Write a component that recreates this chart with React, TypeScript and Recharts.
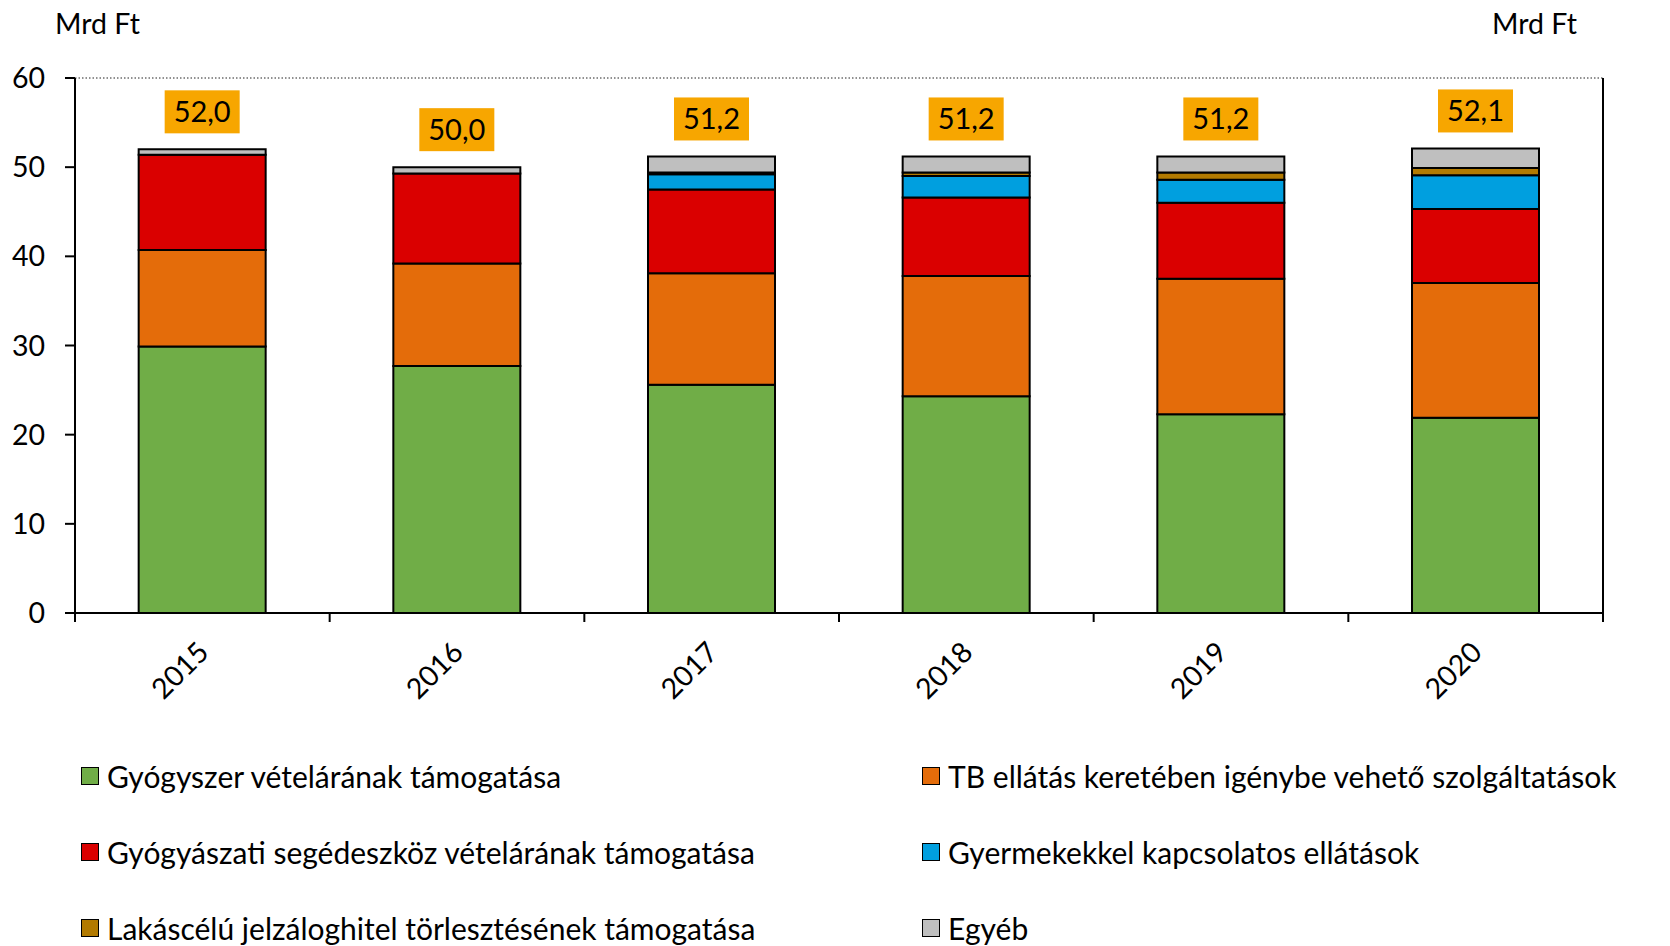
import React, { useEffect } from "react";
import { BarChart, Bar, XAxis, YAxis, CartesianGrid, LabelList } from "recharts";

// data ----------------------------------------------------------------------
const years = ["2015", "2016", "2017", "2018", "2019", "2020"];
const gyogyszer = [29.9, 27.7, 25.6, 24.3, 22.3, 21.9];
const tbEllatas = [10.8, 11.5, 12.5, 13.5, 15.2, 15.1];
const segedeszkoz = [10.7, 10.1, 9.4, 8.8, 8.5, 8.3];
const gyermek = [0, 0, 1.7, 2.4, 2.6, 3.8];
const lakascelu = [0, 0, 0.2, 0.4, 0.8, 0.8];
const egyeb = [0.6, 0.7, 1.8, 1.8, 1.8, 2.2];
const totals = [52.0, 50.0, 51.2, 51.2, 51.2, 52.1];
const yTicks = [0, 10, 20, 30, 40, 50, 60];

const series = [
  { key: "gyogyszer", name: "Gyógyszer vételárának támogatása", color: "#70AD47" },
  { key: "tb", name: "TB ellátás keretében igénybe vehető szolgáltatások", color: "#E46C0A" },
  { key: "seged", name: "Gyógyászati segédeszköz vételárának támogatása", color: "#DA0000" },
  { key: "gyermek", name: "Gyermekekkel kapcsolatos ellátások", color: "#009FDF" },
  { key: "lakas", name: "Lakáscélú jelzáloghitel törlesztésének támogatása", color: "#B27A00" },
  { key: "egyeb", name: "Egyéb", color: "#BFBFBF" },
];

const data = years.map((y, i) => ({
  year: y,
  gyogyszer: gyogyszer[i],
  tb: tbEllatas[i],
  seged: segedeszkoz[i],
  gyermek: gyermek[i],
  lakas: lakascelu[i],
  egyeb: egyeb[i],
  total: totals[i],
}));

// layout ----------------------------------------------------------------------
const W = 1670;
const H = 946;
const LEFT_W = 75;
const RIGHT_W = 67;
const TOP = 78;
const X_H = 110;
const BOTTOM = H - 613 - X_H;
const BAND = (W - LEFT_W - RIGHT_W) / years.length;
const FONT = "Lato, 'Open Sans', sans-serif";
const FS = 28.5;

const fmt = (v: number) => v.toFixed(1).replace(".", ",");

const XTick = (props: any) => {
  const { x, y, payload, index } = props;
  const half = BAND / 2;
  return (
    <g>
      <line x1={x - half} y1={y} x2={x - half} y2={y + 9} stroke="#000" strokeWidth={2} />
      {index === years.length - 1 && (
        <line x1={x + half} y1={y} x2={x + half} y2={y + 9} stroke="#000" strokeWidth={2} />
      )}
      <g transform={`translate(${x + 8},${y + 41}) rotate(-45)`}>
        <text x={0} y={0} textAnchor="end" fontSize={FS} fontFamily={FONT} fill="#000">
          {payload.value}
        </text>
      </g>
    </g>
  );
};

const TotalBox = (props: any) => {
  const { x, y, width, index } = props;
  const cx = x + width / 2;
  const bw = 75;
  const bh = 43;
  const bottom = y - 16;
  return (
    <g>
      <rect x={cx - bw / 2} y={bottom - bh} width={bw} height={bh} fill="#F7A600" />
      <text x={cx} y={bottom - bh / 2} dy="0.36em" textAnchor="middle" fontSize={29} fontFamily={FONT} fill="#000">
        {fmt(totals[index])}
      </text>
    </g>
  );
};

export default function App() {
  useEffect(() => {
    document.body.style.margin = "0";
  }, []);

  const legendRows = [
    [series[0], series[1]],
    [series[2], series[3]],
    [series[4], series[5]],
  ];

  return (
    <div style={{ position: "relative", width: W, height: H, background: "#fff", fontFamily: FONT }}>
      <div style={{ position: "absolute", left: 55, top: 6, fontSize: FS, color: "#000" }}>Mrd Ft</div>
      <div style={{ position: "absolute", right: 93, top: 6, fontSize: FS, color: "#000" }}>Mrd Ft</div>
      <BarChart
        width={W}
        height={H}
        data={data}
        margin={{ top: TOP, right: 0, left: 0, bottom: BOTTOM }}
        barCategoryGap="25%"
      >
        <CartesianGrid vertical={false} horizontal stroke="#222" strokeDasharray="1.5 2" />
        <XAxis
          dataKey="year"
          height={X_H}
          axisLine={{ stroke: "#000", strokeWidth: 2 }}
          tickLine={false}
          tickSize={0}
          tickMargin={0}
          tick={<XTick />}
          interval={0}
        />
        <YAxis
          yAxisId="left"
          width={LEFT_W}
          domain={[0, 60]}
          ticks={yTicks}
          axisLine={{ stroke: "#000", strokeWidth: 2 }}
          tickLine={{ stroke: "#000", strokeWidth: 2 }}
          tickSize={10}
          tickMargin={20}
          tick={{ fontSize: FS, fill: "#000", fontFamily: FONT }}
        />
        <YAxis
          yAxisId="right"
          orientation="right"
          width={RIGHT_W}
          domain={[0, 60]}
          ticks={yTicks}
          axisLine={{ stroke: "#000", strokeWidth: 2 }}
          tickLine={{ stroke: "#000", strokeWidth: 2 }}
          tickSize={10}
          tickMargin={20}
          tick={{ fontSize: FS, fill: "#000", fontFamily: FONT, textAnchor: "start" }}
        />
        {series.map((s, i) => (
          <Bar
            key={s.key}
            yAxisId="left"
            dataKey={s.key}
            name={s.name}
            stackId="a"
            fill={s.color}
            stroke="#000"
            strokeWidth={2}
            isAnimationActive={false}
          >
            {i === series.length - 1 && <LabelList dataKey="total" content={<TotalBox />} />}
          </Bar>
        ))}
      </BarChart>
      <div style={{ position: "absolute", left: 0, top: 756, width: W }}>
        {legendRows.map((row, r) => (
          <div key={r} style={{ position: "relative", height: 76 }}>
            {row.map((s, c) => (
              <div
                key={s.key}
                style={{
                  position: "absolute",
                  left: c === 0 ? 81 : 922,
                  top: 0,
                  display: "flex",
                  alignItems: "center",
                  height: 40,
                  fontSize: 30,
                  color: "#000",
                  whiteSpace: "nowrap",
                }}
              >
                <span
                  style={{
                    display: "inline-block",
                    width: 16,
                    height: 16,
                    background: s.color,
                    border: "1.5px solid #000",
                    marginRight: 8,
                  }}
                />
                {s.name}
              </div>
            ))}
          </div>
        ))}
      </div>
    </div>
  );
}
